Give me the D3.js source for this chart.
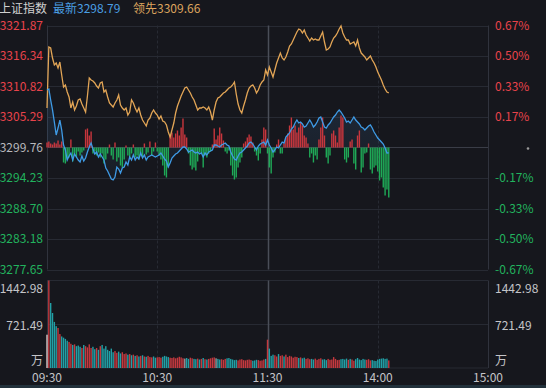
<!DOCTYPE html>
<html><head><meta charset="utf-8">
<script src="https://cdn.jsdelivr.net/npm/d3@7"></script>
<style>
html,body{margin:0;padding:0;background:#16171d;overflow:hidden}
text{font-family:"Noto Sans CJK SC","Liberation Sans",sans-serif}
</style></head>
<body><svg id="c" width="546" height="388"></svg>
<script>
// ---- data ----
const indexName = "上证指数";
const lastLabel = "最新3298.79";
const leadLabel = "领先3309.66";
const prevClose = 3299.76;
const priceTicks = ["3321.87","3316.34","3310.82","3305.29","3299.76","3294.23","3288.70","3283.18","3277.65"];
const pctTicks = ["0.67%","0.50%","0.33%","0.17%","","-0.17%","-0.33%","-0.50%","-0.67%"];
const volTicks = ["1442.98","721.49"];
const volUnit = "万";
const timeLabels = ["09:30","10:30","11:30","14:00","15:00"];
const timeMinutes = [0,60,120,180,240];

const lastPrice = [3310.18,3310.36,3308.37,3306.56,3304.38,3302.02,3303.29,3304.74,3302.93,3300.21,
3299.31,3297.49,3298.22,3298.76,3297.49,3298.58,3298.04,3297.49,3297.13,3298.22,
3297.31,3297.86,3298.94,3299.85,3300.57,3299.49,3298.58,3298.94,3298.04,3298.58,
3298.04,3297.49,3296.04,3295.50,3294.77,3294.05,3293.87,3294.41,3296.22,3295.86,
3295.14,3296.04,3296.22,3297.13,3296.59,3298.04,3297.49,3298.40,3297.49,3298.04,
3297.67,3298.76,3297.86,3298.40,3297.49,3298.04,3298.22,3298.40,3298.22,3298.04,
3298.22,3298.40,3298.76,3298.22,3297.67,3297.31,3296.22,3296.95,3297.86,3298.22,
3298.58,3298.76,3299.12,3299.49,3299.85,3299.85,3299.49,3298.94,3299.12,3299.31,
3298.94,3298.76,3298.94,3298.58,3298.76,3298.04,3298.76,3298.40,3298.94,3299.12,
3299.31,3300.21,3300.21,3300.03,3299.85,3300.21,3300.39,3300.57,3300.21,3300.03,
3298.94,3298.22,3297.67,3297.49,3298.22,3298.76,3298.94,3299.31,3299.67,3300.03,
3300.57,3300.75,3300.39,3299.85,3299.31,3300.03,3300.39,3300.57,3300.75,3300.21,
3301.12,3300.21,3299.67,3298.94,3299.31,3299.85,3299.67,3300.21,3300.75,3300.57,
3301.66,3302.02,3302.39,3303.11,3303.47,3304.20,3304.74,3304.20,3304.38,3304.02,
3303.47,3303.65,3304.20,3304.74,3304.20,3303.47,3303.84,3304.38,3305.10,3305.29,
3304.38,3303.47,3303.29,3303.84,3304.20,3304.74,3305.29,3305.65,3306.19,3306.56,
3306.19,3305.65,3305.10,3304.38,3304.56,3304.20,3304.74,3305.29,3304.74,3304.38,
3304.02,3303.47,3303.29,3302.93,3303.29,3303.65,3303.84,3303.29,3302.57,3302.02,
3301.48,3301.12,3300.75,3300.39,3299.67,3298.76,3298.79];

const leadPrice = [3306.92,3317.97,3317.79,3315.98,3314.71,3315.07,3314.17,3315.25,3312.90,3310.72,
3311.09,3309.82,3308.91,3306.92,3308.00,3306.56,3307.28,3308.37,3308.55,3307.64,
3306.92,3306.19,3309.09,3312.35,3311.99,3311.81,3311.45,3310.90,3310.54,3311.45,
3311.63,3309.82,3310.18,3308.91,3307.82,3307.46,3307.10,3307.82,3308.37,3309.27,
3307.46,3306.92,3306.56,3306.92,3305.65,3306.19,3308.37,3307.82,3306.92,3306.19,
3306.92,3305.65,3304.74,3304.20,3303.65,3304.74,3305.10,3306.01,3306.56,3306.01,
3305.65,3304.92,3305.47,3304.56,3304.38,3303.84,3302.57,3301.66,3302.93,3304.20,
3306.01,3307.28,3308.19,3309.09,3309.82,3310.54,3310.72,3310.18,3309.64,3308.91,
3308.37,3307.46,3306.56,3306.92,3306.92,3307.10,3306.92,3306.56,3307.10,3306.19,
3304.74,3306.56,3308.00,3308.73,3308.91,3309.27,3309.64,3309.82,3310.18,3310.54,
3310.72,3311.09,3311.63,3309.45,3307.64,3306.56,3306.01,3307.28,3308.37,3309.64,
3310.54,3310.90,3311.09,3310.54,3309.64,3310.18,3311.09,3311.63,3311.99,3313.80,
3312.90,3314.35,3313.44,3312.54,3313.80,3315.07,3315.98,3316.88,3315.98,3315.62,
3316.16,3317.07,3318.15,3318.52,3319.24,3319.97,3320.69,3321.23,3321.05,3320.51,
3321.05,3320.15,3319.60,3319.06,3319.60,3319.24,3319.42,3319.24,3319.24,3319.97,
3320.69,3318.88,3317.43,3317.61,3317.97,3318.88,3319.60,3319.97,3320.51,3321.23,
3321.80,3320.51,3319.78,3319.24,3319.24,3318.52,3318.70,3318.88,3318.15,3319.24,
3317.79,3316.88,3316.52,3316.16,3315.62,3315.98,3316.34,3315.62,3315.07,3314.35,
3313.44,3312.72,3311.99,3311.09,3310.36,3309.82,3309.66];

const powerBars = [5,6,4,3,5,4,7,3,6,-15,
-16,-12,-10,8,-14,-6,-10,-4,-8,-5,
-3,18,19,12,16,-6,-4,-8,-5,-10,
-6,-16,-12,-6,3,-8,-12,5,-14,-10,
-18,-20,-12,2,-8,-10,-6,3,-10,-8,
-12,-6,-9,4,-7,-5,6,-8,-4,5,
-4,-8,-12,-18,-28,-30,-20,12,15,10,
14,17,12,20,29,13,10,-6,-18,-22,
-20,-23,-14,-5,-6,-20,-8,-10,-6,-4,
3,19,8,12,20,14,7,-4,-6,-3,
-18,-28,-32,-30,-20,-15,-10,4,6,10,
13,11,5,-4,-8,-13,-6,8,20,18,
-6,-20,-26,-10,-5,3,8,-6,-6,4,
10,14,22,30,18,22,15,20,25,22,
12,10,4,-10,-6,-15,-8,-12,8,20,
30,12,-10,-16,-8,14,17,12,5,20,
32,30,-12,-15,-10,6,8,-16,-22,12,
17,-25,-20,-6,-5,4,-22,-26,-20,-18,
-24,-33,-30,-40,-48,-42,-50];

const volume = [549,1443,1072,907,760,690,660,560,520,500,
480,450,430,400,380,390,360,370,350,330,
380,360,340,390,330,350,310,330,300,360,
380,320,360,300,280,320,260,280,250,270,
240,260,230,240,220,230,210,220,200,210,
190,200,210,190,185,200,180,175,190,170,
175,180,170,185,200,190,180,170,165,175,
160,170,185,175,160,155,165,150,170,160,
150,145,155,140,150,165,145,140,150,160,
170,175,160,150,140,145,135,150,160,165,
150,140,130,135,125,140,145,130,125,135,
140,130,120,125,135,130,120,125,140,150,
467,320,200,220,210,190,230,200,210,190,
220,180,200,190,170,185,180,165,175,160,
170,150,160,145,150,140,155,135,150,160,
140,145,130,150,135,140,180,150,130,135,
145,150,140,155,135,150,140,120,145,165,
140,130,150,140,135,145,125,130,120,115,
140,150,155,160,150,155,125];

// ---- layout ----
const svg = d3.select("#c");
const L = 47, R = 488;
const mainTop = 25.5, mainBot = 269.5, volTop = 280.5, volBot = 368;
const bg = "#16171d", grid = "#272a33", border = "#30333d";
const red = "#e8434b", green = "#22b35e";

const x = d3.scaleLinear().domain([0, 240]).range([L, R]);
const pMin = +priceTicks[priceTicks.length-1], pMax = +priceTicks[0];
const y = d3.scaleLinear().domain([pMin, pMax]).range([mainBot, mainTop]);
const yBar = d3.scaleLinear().domain([-122, 122]).range([mainBot, mainTop]);
const yVol = d3.scaleLinear().domain([0, +volTicks[0]]).range([volBot, volTop]);

svg.append("rect").attr("width",546).attr("height",388).attr("fill",bg);
svg.append("rect").attr("x",0).attr("y",385).attr("width",546).attr("height",3).attr("fill","#22313b");

// horizontal grid (main)
priceTicks.forEach((t,i)=>{
  const yy = Math.round(y(+t))+0.5;
  svg.append("line").attr("x1",L).attr("x2",R).attr("y1",yy).attr("y2",yy)
    .attr("stroke", i===4 ? "#3a3d47" : grid).attr("stroke-width",1);
});
// volume grid
[volTop, Math.round(yVol(+volTicks[1]))+0.5, volBot].forEach(yy=>{
  svg.append("line").attr("x1",L).attr("x2",R).attr("y1",yy).attr("y2",yy)
    .attr("stroke",grid).attr("stroke-width",1);
});
// vertical grid
timeMinutes.forEach((m,i)=>{
  const xx = Math.round(x(m))+0.5;
  const solid = (i===0 || i===4);
  const mid = i===2;
  [[mainTop,mainBot],[volTop,volBot]].forEach(([a,b])=>{
    svg.append("line").attr("x1",xx).attr("x2",xx).attr("y1",a).attr("y2",b)
      .attr("stroke", mid ? "#4a4e58" : (solid ? border : grid))
      .attr("stroke-width", mid ? 1.5 : 1)
      .attr("stroke-dasharray", (solid||mid) ? null : "3,2");
  });
});

// area under last price line
const grad = svg.append("defs").append("linearGradient").attr("id","g").attr("x1",0).attr("x2",0).attr("y1",0).attr("y2",1);
grad.append("stop").attr("offset","0%").attr("stop-color","#4a8ed0").attr("stop-opacity",0.16);
grad.append("stop").attr("offset","100%").attr("stop-color","#4a8ed0").attr("stop-opacity",0.05);
svg.append("path").datum(lastPrice)
  .attr("d", d3.area().x((d,i)=>x(i)).y0(y(prevClose)).y1(d=>y(d)))
  .attr("fill","url(#g)");

// power bars
svg.append("g").selectAll("rect").data(powerBars).join("rect")
  .attr("x",(d,i)=>x(i)-0.7).attr("width",1.4)
  .attr("y",d=>Math.min(yBar(d),yBar(0)))
  .attr("height",d=>Math.abs(yBar(d)-yBar(0)))
  .attr("fill",d=> d>=0 ? "#c8363d" : "#1fa957");

// lines
svg.append("path").datum(leadPrice)
  .attr("d", d3.line().x((d,i)=>x(i)).y(d=>y(d)))
  .attr("fill","none").attr("stroke","#e2a556").attr("stroke-width",1.3);
svg.append("path").datum(lastPrice)
  .attr("d", d3.line().x((d,i)=>x(i)).y(d=>y(d)))
  .attr("fill","none").attr("stroke","#3f9be6").attr("stroke-width",1.3);

// volume bars
svg.append("g").selectAll("rect").data(volume).join("rect")
  .attr("x",(d,i)=>x(i)-0.7).attr("width",1.4)
  .attr("y",d=>yVol(d)).attr("height",d=>yVol(0)-yVol(d))
  .attr("fill",(d,i)=>{
    if(i===0) return "#d8c9c9";
    const dp = lastPrice[i]-lastPrice[i-1];
    return dp>0 ? "#c4393f" : dp<0 ? "#22a0a6" : "#9a9a9e";
  });

// header
const fs = 12;
svg.append("text").attr("x",-1).attr("y",13).attr("font-size",fs).attr("fill","#d0d0d0").text(indexName);
svg.append("text").attr("x",53).attr("y",13).attr("font-size",fs).attr("fill","#4a9fe3").text(lastLabel);
svg.append("text").attr("x",133).attr("y",13).attr("font-size",fs).attr("fill","#dca45e").text(leadLabel);

// axis labels main
priceTicks.forEach((t,i)=>{
  const yy = y(+t);
  const col = i<4 ? red : i===4 ? "#b8b8bc" : green;
  svg.append("text").attr("x",43).attr("y",yy).attr("dy","0.36em").attr("text-anchor","end")
    .attr("font-size",fs).attr("fill",col).text(t);
  if(pctTicks[i]) svg.append("text").attr("x",495).attr("y",yy).attr("dy","0.36em")
    .attr("font-size",fs).attr("fill",col).text(pctTicks[i]);
});
svg.append("circle").attr("cx",528).attr("cy",y(prevClose)+1).attr("r",1.3).attr("fill","#9a9a9a");

// volume labels
const volLab = [[volTicks[0], volTop+8],[volTicks[1], yVol(+volTicks[1])+1],[volUnit, volBot-7]];
volLab.forEach(([t,yy])=>{
  svg.append("text").attr("x",43).attr("y",yy).attr("dy","0.36em").attr("text-anchor","end")
    .attr("font-size",fs).attr("fill","#c4c4c8").text(t);
  svg.append("text").attr("x",495).attr("y",yy).attr("dy","0.36em")
    .attr("font-size",fs).attr("fill","#c4c4c8").text(t);
});

// time labels
timeLabels.forEach((t,i)=>{
  svg.append("text").attr("x",x(timeMinutes[i])).attr("y",378).attr("dy","0.36em")
    .attr("text-anchor","middle").attr("font-size",fs).attr("fill","#c4c4c8").text(t);
});
</script></body></html>
